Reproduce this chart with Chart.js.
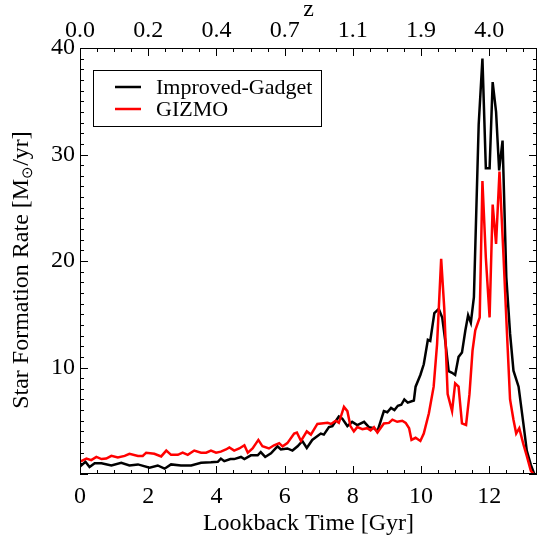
<!DOCTYPE html>
<html>
<head>
<meta charset="utf-8">
<script src="https://cdn.jsdelivr.net/npm/chart.js@4"></script>
<style>
  html, body { margin: 0; padding: 0; background: #fff; }
  #wrap { width: 540px; height: 540px; position: relative; }
</style>
</head>
<body>
<div id="wrap"><canvas id="sfr"></canvas></div>
<script>
// lookback time ticks (bottom) and the redshift each one corresponds to (top)
const lookbackTicks = [0, 2, 4, 6, 8, 10, 12];
const redshiftLabels = ['0.0', '0.2', '0.4', '0.7', '1.1', '1.9', '4.0'];
const sfrTicks = [0, 10, 20, 30, 40];

// Improved-Gadget run
const gadgetTime = [0.0, 0.16, 0.28, 0.43, 0.63, 0.92, 1.21, 1.45, 1.7, 2.04, 2.28, 2.48, 2.67, 2.96, 3.26, 3.55, 3.84, 4.04, 4.13, 4.23,
  4.41, 4.52, 4.72, 4.82, 5.01, 5.21, 5.3, 5.43, 5.6, 5.79, 5.89, 6.08, 6.23, 6.38, 6.52, 6.65, 6.81, 7.06, 7.15, 7.3,
  7.4, 7.59, 7.69, 7.84, 7.98, 8.13, 8.33, 8.47, 8.62, 8.72, 8.91, 9.01, 9.12, 9.22, 9.32, 9.42, 9.51, 9.61, 9.79, 9.84,
  9.98, 10.08, 10.2, 10.27, 10.39, 10.52, 10.62, 10.71, 10.81, 10.91, 11.0, 11.1, 11.2, 11.3, 11.38, 11.46, 11.55, 11.69, 11.8, 11.9,
  12.01, 12.1, 12.2, 12.29, 12.39, 12.5, 12.61, 12.71, 12.86, 13.0, 13.1, 13.22, 13.32];
const gadgetSfr = [0.7, 1.15, 0.65, 1.0, 1.0, 0.8, 1.05, 0.8, 0.9, 0.6, 0.8, 0.5, 0.9, 0.8, 0.8, 1.05, 1.1, 1.15, 1.45, 1.2,
  1.4, 1.4, 1.6, 1.4, 1.75, 1.75, 2.05, 1.6, 1.95, 2.6, 2.3, 2.4, 2.2, 2.6, 3.1, 2.45, 3.2, 3.8, 3.7, 4.4,
  4.5, 5.4, 5.2, 4.5, 4.9, 4.6, 4.9, 4.4, 4.3, 4.0, 5.9, 5.8, 6.2, 6.0, 6.4, 6.5, 7.0, 6.7, 6.9, 8.2,
  9.3, 10.3, 12.6, 12.5, 15.1, 15.5, 14.7, 12.5, 9.65, 9.5, 9.3, 11.0, 11.4, 13.5, 14.9, 14.2, 16.6, 32.8, 39.0, 28.7,
  28.7, 36.8, 34.0, 28.5, 31.3, 18.5, 13.2, 9.7, 8.2, 4.75, 2.2, 0.85, 0.0];

// GIZMO run
const gizmoTime = [0.0, 0.19, 0.33, 0.48, 0.63, 0.77, 0.92, 1.11, 1.31, 1.45, 1.7, 1.84, 1.94, 2.18, 2.38, 2.53, 2.67, 2.87, 3.01, 3.16,
  3.35, 3.55, 3.7, 3.84, 3.99, 4.13, 4.28, 4.38, 4.52, 4.67, 4.82, 4.92, 5.06, 5.23, 5.35, 5.54, 5.69, 5.84, 5.94, 6.08,
  6.28, 6.36, 6.48, 6.65, 6.77, 6.96, 7.26, 7.36, 7.5, 7.59, 7.74, 7.84, 7.93, 8.03, 8.13, 8.28, 8.42, 8.52, 8.62, 8.72,
  8.91, 9.06, 9.16, 9.3, 9.45, 9.55, 9.65, 9.72, 9.84, 9.98, 10.08, 10.23, 10.37, 10.47, 10.59, 10.68, 10.78, 10.91, 11.0, 11.1,
  11.2, 11.32, 11.42, 11.51, 11.59, 11.72, 11.8, 11.9, 12.01, 12.1, 12.2, 12.3, 12.42, 12.52, 12.61, 12.71, 12.79, 12.88, 13.0, 13.1,
  13.22, 13.3];
const gizmoSfr = [1.15, 1.45, 1.3, 1.6, 1.4, 1.45, 1.7, 1.55, 1.7, 1.9, 1.7, 1.7, 2.0, 1.9, 1.65, 2.2, 1.8, 1.8, 2.0, 1.8,
  2.2, 2.0, 2.0, 2.2, 2.0, 2.1, 2.3, 2.5, 2.2, 2.4, 2.7, 2.0, 2.4, 3.2, 2.6, 2.4, 2.7, 2.9, 2.6, 2.9,
  3.8, 3.9, 3.1, 4.0, 3.7, 4.7, 4.8, 4.7, 5.0, 4.8, 6.3, 5.9, 4.5, 4.0, 4.4, 4.2, 4.3, 4.1, 4.4, 3.9,
  4.75, 4.8, 5.1, 4.9, 5.0, 4.8, 4.3, 3.2, 3.4, 3.1, 3.8, 5.7, 8.2, 12.2, 20.2, 15.6, 7.5, 5.9, 8.5, 8.2,
  4.75, 4.6, 7.5, 11.6, 13.5, 14.7, 27.5, 20.3, 14.7, 25.3, 21.6, 28.4, 20.3, 13.2, 7.0, 5.1, 3.8, 4.3, 2.8, 1.7,
  0.3, 0.0];

const toPoints = (xs, ys) => xs.map((x, i) => ({ x: x, y: ys[i] }));

const serif = '"Liberation Serif", "Times New Roman", serif';
Chart.defaults.font.family = serif;
Chart.defaults.color = '#000';

// frame plus inward-pointing major/minor ticks on all four sides
const frameTicks = {
  id: 'frameTicks',
  afterDraw(chart) {
    const { ctx, chartArea: a, scales } = chart;
    const xs = scales.x, ys = scales.y;
    ctx.save();
    ctx.strokeStyle = '#000';
    ctx.lineWidth = 1;
    ctx.beginPath();
    for (let t = 0; t <= xs.max + 1e-9; t += 0.5) {
      const px = Math.round(xs.getPixelForValue(t)) + 0.5;
      const len = (t % 2 === 0) ? 8 : 4;
      ctx.moveTo(px, a.bottom); ctx.lineTo(px, a.bottom - len);
      ctx.moveTo(px, a.top); ctx.lineTo(px, a.top + len);
    }
    for (let v = 0; v <= ys.max; v += 1) {
      const py = Math.round(ys.getPixelForValue(v)) + 0.5;
      const len = (v % 10 === 0) ? 8 : 4;
      ctx.moveTo(a.left, py); ctx.lineTo(a.left + len, py);
      ctx.moveTo(a.right, py); ctx.lineTo(a.right - len, py);
    }
    ctx.stroke();
    ctx.strokeRect(Math.round(a.left) + 0.5, Math.round(a.top) + 0.5,
      Math.round(a.right - a.left) - 1, Math.round(a.bottom - a.top) - 1);
    ctx.restore();
  }
};

// rotated y title with the solar symbol set as a subscript
const sfrTitle = {
  id: 'sfrTitle',
  afterDraw(chart) {
    const ctx = chart.ctx;
    const parts = [
      { text: 'Star Formation Rate [M', size: 24, dy: 0 },
      { text: '\u2299', size: 15, dy: 6 },
      { text: '/yr]', size: 24, dy: 0 }
    ];
    ctx.save();
    let total = 0;
    parts.forEach(p => { ctx.font = p.size + 'px ' + serif; p.w = ctx.measureText(p.text).width; total += p.w; });
    ctx.translate(22, 270);
    ctx.rotate(-Math.PI / 2);
    ctx.fillStyle = '#000';
    ctx.textBaseline = 'middle';
    ctx.textAlign = 'left';
    let x = -total / 2;
    parts.forEach(p => {
      ctx.font = p.size + 'px ' + serif;
      ctx.fillText(p.text, x, p.dy);
      x += p.w;
    });
    ctx.restore();
  }
};

// boxed legend in the upper-left corner of the plot
const boxLegend = {
  id: 'boxLegend',
  afterDraw(chart) {
    const ctx = chart.ctx;
    const a = chart.chartArea;
    const x0 = a.left + 13, y0 = a.top + 22, w = 228, h = 56;
    ctx.save();
    ctx.fillStyle = '#fff';
    ctx.fillRect(x0, y0, w, h);
    ctx.strokeStyle = '#000';
    ctx.lineWidth = 1;
    ctx.strokeRect(x0 + 0.5, y0 + 0.5, w, h);
    ctx.font = '22px ' + serif;
    ctx.textBaseline = 'middle';
    chart.data.datasets.forEach((ds, i) => {
      const y = y0 + 17 + i * 22;
      ctx.strokeStyle = ds.borderColor;
      ctx.lineWidth = 2.5;
      ctx.beginPath();
      ctx.moveTo(x0 + 22, y); ctx.lineTo(x0 + 48, y);
      ctx.stroke();
      ctx.fillStyle = '#000';
      ctx.fillText(ds.label, x0 + 63, y + 1);
    });
    ctx.restore();
  }
};

new Chart(document.getElementById('sfr'), {
  type: 'line',
  data: {
    datasets: [{
      label: 'Improved-Gadget',
      data: toPoints(gadgetTime, gadgetSfr),
      borderColor: '#000',
      borderWidth: 2.5,
      pointRadius: 0,
      tension: 0,
      order: 1
    }, {
      label: 'GIZMO',
      data: toPoints(gizmoTime, gizmoSfr),
      borderColor: '#ff0000',
      borderWidth: 2.5,
      pointRadius: 0,
      tension: 0,
      order: 0
    }]
  },
  options: {
    responsive: true,
    maintainAspectRatio: false,
    animation: false,
    layout: { padding: 0 },
    plugins: {
      legend: { display: false },
      tooltip: { enabled: false }
    },
    scales: {
      x: {
        type: 'linear',
        position: 'bottom',
        min: 0,
        max: 13.4,
        afterBuildTicks: s => { s.ticks = lookbackTicks.map(v => ({ value: v })); },
        afterFit: s => { s.height = 66; },
        grid: { display: false, drawTicks: false },
        border: { display: false },
        ticks: { font: { size: 24 }, padding: 8, maxRotation: 0 },
        title: { display: true, text: 'Lookback Time [Gyr]', font: { size: 24 }, padding: { top: 0, bottom: 2 } }
      },
      x2: {
        type: 'linear',
        position: 'top',
        min: 0,
        max: 13.4,
        afterBuildTicks: s => { s.ticks = lookbackTicks.map(v => ({ value: v })); },
        afterFit: s => { s.height = 48; },
        grid: { display: false, drawTicks: false },
        border: { display: false },
        ticks: { font: { size: 24 }, padding: 3, maxRotation: 0, callback: (v, i) => redshiftLabels[i] },
        title: { display: true, text: 'z', font: { size: 24 }, padding: { top: -5, bottom: 0 } }
      },
      y: {
        type: 'linear',
        position: 'left',
        min: 0,
        max: 40,
        afterBuildTicks: s => { s.ticks = sfrTicks.map(v => ({ value: v })); },
        afterFit: s => { s.width = 80; },
        grid: { display: false, drawTicks: false },
        border: { display: false },
        ticks: { font: { size: 24 }, padding: 5, callback: v => (v === 0 ? '' : v) },
        title: { display: false }
      },
      y2: {
        type: 'linear',
        position: 'right',
        min: 0,
        max: 40,
        afterFit: s => { s.width = 3; },
        grid: { display: false, drawTicks: false },
        border: { display: false },
        ticks: { display: false }
      }
    }
  },
  plugins: [frameTicks, sfrTitle, boxLegend]
});
</script>
</body>
</html>
